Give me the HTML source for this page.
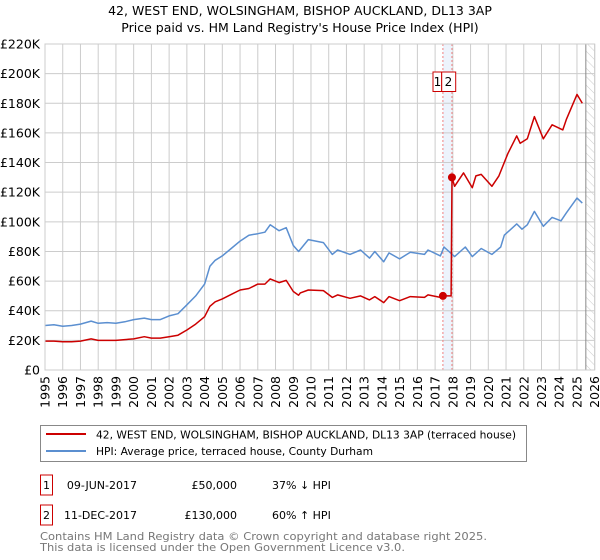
<!DOCTYPE html>
<html><head><meta charset="utf-8"><style>
body{margin:0;background:#fff;font-family:"DejaVu Sans","Liberation Sans",sans-serif;}
#wrap{position:relative;width:600px;height:560px;overflow:hidden;}
svg text{font-family:"DejaVu Sans","Liberation Sans",sans-serif;}
</style></head><body><div id="wrap">
<svg id="c" width="600" height="560"></svg>
</div>
<script>
const hpiYears=[1995,1995.5,1996,1996.5,1997,1997.6,1998,1998.5,1999,1999.5,2000,2000.6,2001,2001.5,2002,2002.5,2003,2003.5,2004,2004.3,2004.6,2005,2005.5,2006,2006.5,2007,2007.4,2007.7,2008.2,2008.6,2009,2009.3,2009.85,2010.7,2011.2,2011.5,2012.2,2012.8,2013.3,2013.6,2014.1,2014.4,2015.0,2015.6,2016.4,2016.6,2017.3,2017.5,2018.1,2018.7,2019.1,2019.6,2020.2,2020.7,2020.9,2021.6,2021.9,2022.2,2022.6,2023.1,2023.6,2024.1,2024.4,2025.0,2025.3];
const hpiValues=[30,30.5,29.5,30,31,33,31.5,32,31.5,32.5,34,35,34,34,36.5,38,44,50,58,70,74,77,82,87,91,92,93,98,94,96,84,80,88,86,78,81,78,81,75.5,80,73,79,75,79.5,78,81,77,83,76.5,83,76.5,82,78,83,91,98.6,95,98,107,97,103,100.7,106,116,112.6];
const ppYears=[1995,1995.5,1996,1996.5,1997,1997.6,1998,1998.5,1999,1999.5,2000,2000.6,2001,2001.5,2002,2002.5,2003,2003.5,2004,2004.3,2004.6,2005,2005.5,2006,2006.5,2007,2007.4,2007.7,2008.2,2008.6,2009,2009.3,2009.4,2009.85,2010.7,2011.2,2011.5,2012.2,2012.8,2013.3,2013.6,2014.1,2014.4,2015.0,2015.6,2016.4,2016.6,2017.3,2017.44,2017.9,2017.95,2018.1,2018.6,2019.1,2019.3,2019.6,2020.2,2020.6,2021.1,2021.6,2021.8,2022.2,2022.6,2023.1,2023.6,2024.2,2024.4,2025.0,2025.3];
const ppValues=[19.5,19.5,19,19,19.5,21,20,20,20,20.5,21,22.5,21.5,21.5,22.5,23.5,27,31,36,43,46,48,51,54,55,58,58,61.5,59,60.5,53,50.5,52,54,53.6,49,50.7,48.4,50,47.3,49.5,45.5,49.5,46.8,49.5,49,50.7,49,50,50,130,124,133,123,131,132,124,131,146,158,153,156,171,156,165.5,162,169,186,180];
const sales=[{n:"1",year:2017.44,value:50},{n:"2",year:2017.95,value:130}];
const yTicks=[0,20,40,60,80,100,120,140,160,180,200,220];
const xTicks=[1995,1996,1997,1998,1999,2000,2001,2002,2003,2004,2005,2006,2007,2008,2009,2010,2011,2012,2013,2014,2015,2016,2017,2018,2019,2020,2021,2022,2023,2024,2025,2026];

const L=45,R=594.7,T=44,B=370;
const X=y=>L+(y-1995)*(R-L)/31;
const Y=v=>B-v*(B-T)/220;
const svg=document.getElementById('c');
const NS='http://www.w3.org/2000/svg';
function el(tag,attrs,parent){const e=document.createElementNS(NS,tag);for(const k in attrs)e.setAttribute(k,attrs[k]);(parent||svg).appendChild(e);return e;}
function txt(x,y,s,attrs){const t=el('text',Object.assign({x:x,y:y},attrs||{}));t.textContent=s;return t;}

let t1=txt(300,15,"42, WEST END, WOLSINGHAM, BISHOP AUCKLAND, DL13 3AP",{'text-anchor':'middle','font-size':'12.5'});


let t2=txt(300,32,"Price paid vs. HM Land Registry's House Price Index (HPI)",{'text-anchor':'middle','font-size':'12.5'});



const defs=el('defs',{});
const pat=el('pattern',{id:'h',width:6,height:6,patternUnits:'userSpaceOnUse',patternTransform:'rotate(-45)'},defs);
el('line',{x1:0,y1:0,x2:0,y2:6,stroke:'#ccc','stroke-width':1},pat);
let hz=el('rect',{x:X(2025.5),y:T,width:R-X(2025.5),height:B-T,fill:'url(#h)'});


let band=el('rect',{x:X(sales[0].year),y:T,width:X(sales[1].year)-X(sales[0].year),height:B-T,fill:'#e8f0fb',opacity:0.8});



const grid=el('g',{stroke:'#ccc','stroke-width':1});


xTicks.forEach(y=>{el('line',{x1:X(y),y1:T,x2:X(y),y2:B},grid);});
yTicks.forEach(v=>{el('line',{x1:L,y1:Y(v),x2:R,y2:Y(v)},grid);});
yTicks.forEach(v=>{const t=txt(40,Y(v)+4.5,v===0?'£0':'£'+v+'K',{'text-anchor':'end','font-size':'12.5'});

});
xTicks.forEach(y=>{const t=txt(0,0,String(y),{'font-size':'12.5','text-anchor':'end',transform:`translate(${X(y)+4.5},${B+6}) rotate(-90)`});

});
let nl=el('line',{x1:X(2025.5),y1:T,x2:X(2025.5),y2:B,stroke:'#888','stroke-width':1});



sales.forEach(s=>{const l=el('line',{x1:X(s.year),y1:T,x2:X(s.year),y2:B,stroke:'#f08080','stroke-dasharray':'2,2','stroke-width':1});

});

function path(xs,vs,color,name){const d=xs.map((x,i)=>(i?'L':'M')+X(x).toFixed(1)+','+Y(vs[i]).toFixed(1)).join('');
const p=el('path',{d:d,fill:'none',stroke:color,'stroke-width':1.5,'stroke-linejoin':'round'});

}
path(hpiYears,hpiValues,'#5b8fd0','hpi-line');
path(ppYears,ppValues,'#cc0000','price-paid-line');
sales.forEach(s=>{const c=el('circle',{cx:X(s.year),cy:Y(s.value),r:4,fill:'#cc0000'});

});
sales.forEach((s,i)=>{
const g=el('g',{});


el('rect',{x:i===0?433:441.7,y:72,width:i===0?8.7:14,height:19.5,fill:'#fff',stroke:'#cc0000'},g);
const t=el('text',{x:i===0?437.5:448.5,y:86,'text-anchor':'middle','font-size':'12'},g);t.textContent=s.n;});
let ax=el('rect',{x:L,y:T,width:R-L,height:B-T,fill:'none',stroke:'#ccc'});



const lg=el('g',{});


el('rect',{x:40.5,y:425.5,width:486,height:36,fill:'#fff',stroke:'#888'},lg);
el('line',{x1:46,y1:434,x2:86,y2:434,stroke:'#cc0000','stroke-width':2},lg);
el('line',{x1:46,y1:451,x2:86,y2:451,stroke:'#5b8fd0','stroke-width':2},lg);
let le1=txt(96,438.5,"42, WEST END, WOLSINGHAM, BISHOP AUCKLAND, DL13 3AP (terraced house)",{'font-size':'11',textLength:420,lengthAdjust:'spacingAndGlyphs'});


let le2=txt(96,455,"HPI: Average price, terraced house, County Durham",{'font-size':'11',textLength:277,lengthAdjust:'spacingAndGlyphs'});



const rows=[["1","09-JUN-2017","£50,000","37% ↓ HPI",483],["2","11-DEC-2017","£130,000","60% ↑ HPI",513]];
rows.forEach(r=>{const g=el('g',{});


el('rect',{x:40.5,y:r[4]-8,width:12,height:20,fill:'#fff',stroke:'#cc0000'},g);
const a=el('text',{x:46.5,y:r[4]+6,'text-anchor':'middle','font-size':'11'},g);a.textContent=r[0];
const b=el('text',{x:137,y:r[4]+6,'text-anchor':'end','font-size':'11'},g);b.textContent=r[1];
const c=el('text',{x:237,y:r[4]+6,'text-anchor':'end','font-size':'11'},g);c.textContent=r[2];
const d=el('text',{x:272,y:r[4]+6,'font-size':'11'},g);d.textContent=r[3];});
let f1=txt(40,540,"Contains HM Land Registry data © Crown copyright and database right 2025.",{'font-size':'11',fill:'#777',textLength:447,lengthAdjust:'spacingAndGlyphs'});


let f2=txt(40,551,"This data is licensed under the Open Government Licence v3.0.",{'font-size':'11',fill:'#777',textLength:365,lengthAdjust:'spacingAndGlyphs'});


</script></body></html>
